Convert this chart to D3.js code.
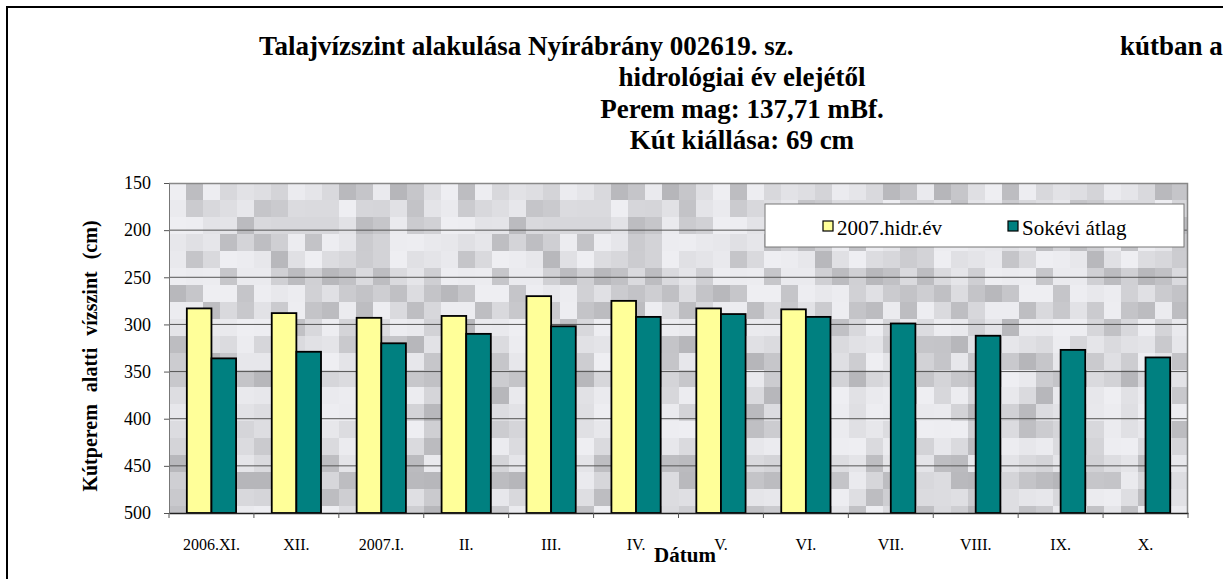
<!DOCTYPE html>
<html>
<head>
  <meta charset="utf-8">
  <style>
    body { margin: 0; background: #fff; }
    svg text { font-family: "Liberation Serif", "Times New Roman", serif; fill: #000; }
    svg .title { font-size: 27px; font-weight: bold; }
    svg .grid { stroke: #555; stroke-width: 1px; }
    svg .y-axis .tick text { font-size: 18px; }
    svg .x-axis .tick text { font-size: 16px; }
  </style>
</head>
<body>
<script src="https://cdnjs.cloudflare.com/ajax/libs/d3/7.8.5/d3.min.js"></script>
<script>
  // data
  var categories = ["2006.XI.", "XII.", "2007.I.", "II.", "III.", "IV.", "V.", "VI.", "VII.", "VIII.", "IX.", "X."];
  var seriesNames = ["2007.hidr.év", "Sokévi átlag"];
  var hidrEv   = [283, 288, 293, 291, 270, 275, 283, 284, null, null, null, null];
  var sokevi   = [336, 329, 320, 310, 302, 292, 289, 292, 299, 312, 327, 335];
  var yTicks   = [150, 200, 250, 300, 350, 400, 450, 500];
  var colors   = ["#FFFF99", "#008080"];

  var width = 1223, height = 579;
  var plot = { left: 169, top: 183, width: 1019, height: 330 };

  var svg = d3.select("body").append("svg")
      .attr("width", width)
      .attr("height", height);

  // outer chart border (runs off the right and bottom edges)
  svg.append("rect")
      .attr("x", 7).attr("y", 7)
      .attr("width", 1260).attr("height", 620)
      .style("fill", "#fff")
      .style("stroke", "#000")
      .style("stroke-width", "2px");

  // titles
  svg.append("text").classed("title", true)
      .attr("x", 259).attr("y", 55)
      .text("Talajvízszint alakulása Nyírábrány 002619. sz.");
  svg.append("text").classed("title", true)
      .attr("x", 1120).attr("y", 55)
      .text("kútban a");
  var subLines = ["hidrológiai év elejétől", "Perem mag: 137,71 mBf.", "Kút kiállása: 69 cm"];
  svg.selectAll("text.sub").data(subLines).enter()
    .append("text")
      .classed("title", true)
      .attr("x", 742)
      .attr("y", function (d, i) { return 86 + i * 31.5; })
      .style("text-anchor", "middle")
      .text(function (d) { return d; });

  var g = svg.append("g")
      .attr("transform", "translate(" + plot.left + "," + plot.top + ")");

  // scales
  var x = d3.scaleBand().domain(categories).range([0, plot.width]);
  var bw = x.bandwidth();
  var x1 = d3.scaleBand().domain(seriesNames)
      .range([bw / 2 - bw * 0.29, bw / 2 + bw * 0.29]);
  var y = d3.scaleLinear().domain([150, 500]).range([0, plot.height]);

  // mottled grey background (decoration only)
  var cell = 17;
  var bg = [];
  for (var r = 0; r * cell < plot.height; r++) {
    for (var c = 0; c * cell < plot.width; c++) {
      var h = Math.sin((c % 16) * 12.9898 + r * 78.233) * 43758.5453;
      h = h - Math.floor(h);
      bg.push({ r: r, c: c, v: Math.round(238 - Math.pow(h, 1.6) * 56) });
    }
  }
  g.append("g").selectAll("rect").data(bg).enter()
    .append("rect")
      .attr("x", function (d) { return d.c * cell; })
      .attr("y", function (d) { return d.r * cell; })
      .attr("width", function (d) { return Math.min(cell, plot.width - d.c * cell); })
      .attr("height", function (d) { return Math.min(cell, plot.height - d.r * cell); })
      .style("fill", function (d) { return "rgb(" + d.v + "," + d.v + "," + (d.v + 4) + ")"; });

  // grid lines
  g.selectAll("line.grid").data(yTicks.slice(1, -1)).enter()
    .append("line").classed("grid", true)
      .attr("x1", 0).attr("x2", plot.width)
      .attr("y1", function (d) { return y(d); })
      .attr("y2", function (d) { return y(d); });

  // plot frame top/right
  g.append("path")
      .attr("d", "M0,0.5H" + (plot.width - 0.5) + "V" + plot.height)
      .style("fill", "none").style("stroke", "#888").style("stroke-width", "1.5px");

  // bars
  var rows = categories.map(function (cat, i) {
    return { cat: cat, vals: [hidrEv[i], sokevi[i]] };
  });
  var groups = g.selectAll("g.grp").data(rows).enter()
    .append("g").classed("grp", true)
      .attr("transform", function (d) { return "translate(" + x(d.cat) + ",0)"; });
  groups.selectAll("rect")
    .data(function (d) {
      return d.vals.map(function (v, k) { return { s: seriesNames[k], k: k, v: v }; })
        .filter(function (e) { return e.v != null; });
    })
    .enter().append("rect")
      .attr("x", function (d) { return x1(d.s); })
      .attr("y", function (d) { return y(d.v); })
      .attr("width", x1.bandwidth())
      .attr("height", function (d) { return plot.height - y(d.v); })
      .style("fill", function (d) { return colors[d.k]; })
      .style("stroke", "#000")
      .style("stroke-width", "1.8px");

  // y axis
  var yAxis = d3.axisLeft(y).tickValues(yTicks).tickSize(5).tickPadding(13).tickSizeOuter(0);
  var ya = g.append("g").classed("y-axis", true).call(yAxis);
  ya.select(".domain").style("stroke", "#777");
  ya.selectAll(".tick line").style("stroke", "#555");
  ya.selectAll(".tick text").style("font-family", "Liberation Serif");

  // x axis: labels at category centres, ticks at category boundaries
  var xAxis = d3.axisBottom(x).tickSize(0).tickPadding(26).tickSizeOuter(0);
  var xa = g.append("g").classed("x-axis", true)
      .attr("transform", "translate(0," + plot.height + ")")
      .call(xAxis);
  xa.select(".domain").style("stroke", "#222").style("stroke-width", "1.5px");
  xa.selectAll(".tick text").style("font-family", "Liberation Serif");
  var bounds = categories.map(function (c) { return x(c); }).concat([plot.width]);
  xa.selectAll("line.bt").data(bounds).enter()
    .append("line").classed("bt", true)
      .attr("x1", function (d) { return d; }).attr("x2", function (d) { return d; })
      .attr("y1", 0).attr("y2", 5)
      .style("stroke", "#555");

  // axis titles
  svg.append("text")
      .attr("transform", "translate(97," + 356 + ") rotate(-90)")
      .style("text-anchor", "middle")
      .style("font-size", "20px")
      .style("font-weight", "bold")
      .style("word-spacing", "7px")
      .text("Kútperem alatti vízszint (cm)");

  svg.append("text")
      .attr("x", 685).attr("y", 562)
      .style("text-anchor", "middle")
      .style("font-size", "21px")
      .style("font-weight", "bold")
      .text("Dátum");

  // legend
  var lg = svg.append("g").attr("transform", "translate(765,204)");
  lg.append("rect")
      .attr("width", 419).attr("height", 43)
      .style("fill", "#fff").style("stroke", "#777").style("stroke-width", "1px");
  var legX = [58, 243];
  seriesNames.forEach(function (name, k) {
    lg.append("rect")
        .attr("x", legX[k]).attr("y", 17)
        .attr("width", 10).attr("height", 10)
        .style("fill", colors[k]).style("stroke", "#000").style("stroke-width", "1.2px");
    lg.append("text")
        .attr("x", legX[k] + 14).attr("y", 31)
        .style("font-size", "21px")
        .text(name);
  });
</script>
</body>
</html>
